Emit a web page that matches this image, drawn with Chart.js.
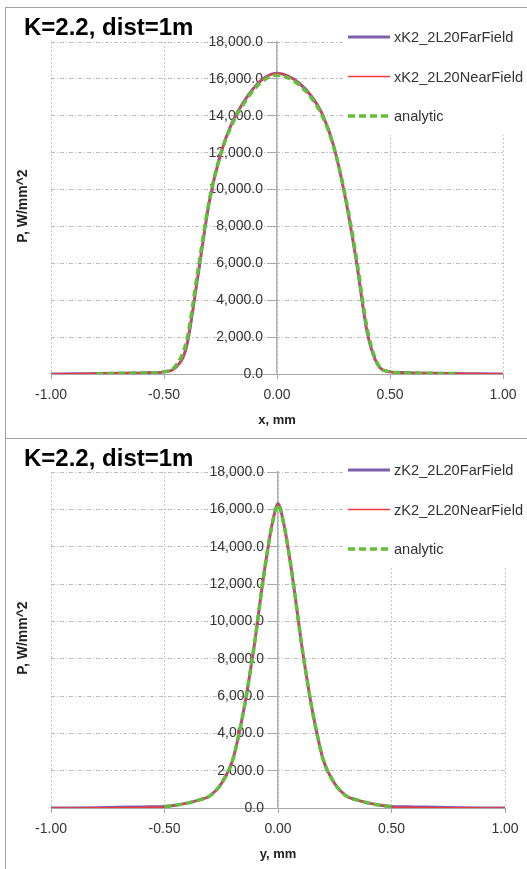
<!DOCTYPE html>
<html>
<head>
<meta charset="utf-8">
<script src="https://cdn.jsdelivr.net/npm/chart.js@4.4.0/dist/chart.umd.min.js"></script>
<style>
  body { margin: 0; background: #fff; }
  #page { position: relative; width: 527px; height: 869px; overflow: hidden; }
  .panel { position: absolute; left: 5px; width: 600px; border: 1px solid #a0a0a0; }
  #panelX { top: 7px; height: 430px; }
  #panelY { top: 438px; height: 460px; }
  canvas { position: absolute; left: 0; }
  #chartX { top: 0; }
  #chartY { top: 438px; }
</style>
</head>
<body>
<div id="page">
  <div class="panel" id="panelX"></div>
  <div class="panel" id="panelY"></div>
  <canvas id="chartX" width="527" height="438"></canvas>
  <canvas id="chartY" width="527" height="431"></canvas>
</div>
<script>
// ---- data ----
// horizontal cut (x, mm)
const posX = [-1.00, -0.90, -0.80, -0.70, -0.60, -0.55, -0.50, -0.45, -0.40, -0.35, -0.30, -0.25, -0.20, -0.15, -0.10, -0.05,
  0.00, 0.05, 0.10, 0.15, 0.20, 0.25, 0.30, 0.35, 0.40, 0.45, 0.50, 0.55, 0.60, 0.70, 0.80, 0.90, 1.00];
const farX = [5, 10, 25, 40, 60, 75, 115, 340, 1500, 5300, 9300, 11900, 13600, 14700, 15550, 16100,
  16300, 16150, 15750, 15100, 14100, 12400, 9700, 6200, 2200, 420, 115, 75, 60, 40, 25, 10, 5];
const nearX = [5, 8, 20, 35, 55, 70, 110, 330, 1500, 5300, 9300, 11900, 13600, 14700, 15550, 16100,
  16300, 16150, 15750, 15100, 14100, 12400, 9700, 6200, 2200, 420, 110, 70, 55, 35, 20, 8, 5];
const posAnX = [-0.80, -0.70, -0.60, -0.55, -0.50, -0.45, -0.40, -0.35, -0.30, -0.25, -0.20, -0.15, -0.10, -0.05,
  0.00, 0.05, 0.10, 0.15, 0.20, 0.25, 0.30, 0.35, 0.40, 0.45, 0.50, 0.55, 0.60, 0.70, 0.80];
const analyticX = [20, 35, 55, 70, 120, 420, 1800, 5600, 9400, 11900, 13500, 14600, 15450, 16000,
  16200, 16050, 15650, 15000, 14000, 12350, 9800, 6400, 2400, 450, 120, 70, 55, 35, 20];

// vertical cut (y, mm)
const posY = [-1.00, -0.90, -0.80, -0.70, -0.60, -0.50, -0.45, -0.40, -0.35, -0.30, -0.25, -0.20, -0.175, -0.15, -0.125, -0.10, -0.075, -0.05, -0.025,
  0.00, 0.025, 0.05, 0.075, 0.10, 0.125, 0.15, 0.175, 0.20, 0.25, 0.30, 0.35, 0.40, 0.45, 0.50, 0.60, 0.70, 0.80, 0.90, 1.00];
const farY = [0, 5, 20, 45, 60, 85, 150, 260, 420, 650, 1300, 2550, 3800, 5300, 7100, 9100, 11400, 13500, 15250,
  16300, 15250, 13500, 11400, 9100, 7100, 5300, 3800, 2550, 1300, 650, 420, 260, 150, 85, 60, 45, 20, 5, 0];
const nearY = [0, 0, 5, 15, 30, 70, 150, 260, 420, 650, 1300, 2550, 3800, 5300, 7100, 9100, 11400, 13500, 15250,
  16300, 15250, 13500, 11400, 9100, 7100, 5300, 3800, 2550, 1300, 650, 420, 260, 150, 70, 30, 15, 5, 0, 0];
const posAnY = [-0.50, -0.45, -0.40, -0.35, -0.30, -0.25, -0.20, -0.175, -0.15, -0.125, -0.10, -0.075, -0.05, -0.025,
  0.00, 0.025, 0.05, 0.075, 0.10, 0.125, 0.15, 0.175, 0.20, 0.25, 0.30, 0.35, 0.40, 0.45, 0.50];
const analyticY = [70, 150, 260, 420, 650, 1300, 2550, 3800, 5300, 7100, 9100, 11400, 13500, 15250,
  16250, 15250, 13500, 11400, 9100, 7100, 5300, 3800, 2550, 1300, 650, 420, 260, 150, 70];

const xTicks = [-1.0, -0.5, 0.0, 0.5, 1.0];
const yMax = 18000;
const yStep = 2000;

const FONT = '"Liberation Sans", Arial, sans-serif';
const PURPLE = '#7d5fab';
const RED = '#f2383f';
const GREEN = '#63bf3a';

function points(xs, ys) {
  return xs.map((x, i) => ({ x: x, y: ys[i] }));
}

// title, y-axis title and the boxed legend that sits over the plot
const panelDecor = {
  id: 'panelDecor',
  afterDraw(chart, args, opts) {
    const { ctx, chartArea } = chart;
    ctx.save();
    ctx.fillStyle = '#000';
    ctx.textBaseline = 'middle';
    ctx.textAlign = 'left';
    ctx.font = 'bold 24px ' + FONT;
    ctx.fillText(opts.title, 24, opts.titleY);

    ctx.save();
    ctx.font = 'bold 14px ' + FONT;
    ctx.translate(23, (chartArea.top + chartArea.bottom) / 2 - 2);
    ctx.rotate(-Math.PI / 2);
    ctx.textAlign = 'center';
    ctx.fillStyle = '#222';
    ctx.fillText(opts.yTitle, 0, 0);
    ctx.restore();

    // legend box
    ctx.fillStyle = '#fff';
    ctx.fillRect(343, opts.legendY - 14, 200, 112);
    ctx.font = '14.6px ' + FONT;
    chart.data.datasets.forEach((ds, i) => {
      const y = opts.legendY + i * 39.5;
      ctx.beginPath();
      ctx.strokeStyle = ds.borderColor;
      ctx.lineWidth = ds.borderWidth;
      ctx.setLineDash(ds.borderDash || []);
      ctx.moveTo(348, y);
      ctx.lineTo(390, y);
      ctx.stroke();
      ctx.setLineDash([]);
      ctx.fillStyle = '#333';
      ctx.fillText(ds.label, 394, y + 1);
    });
    ctx.restore();
  }
};

function makeChart(canvasId, cut) {
  const ctx = document.getElementById(canvasId).getContext('2d');
  return new Chart(ctx, {
    type: 'line',
    data: {
      datasets: [
        {
          label: cut.names[0],
          data: points(cut.pos, cut.far),
          borderColor: PURPLE,
          borderWidth: 3,
          order: 2
        },
        {
          label: cut.names[1],
          data: points(cut.pos, cut.near),
          borderColor: RED,
          borderWidth: 1.6,
          order: 1
        },
        {
          label: 'analytic',
          data: points(cut.posAn, cut.analytic),
          borderColor: GREEN,
          borderWidth: 3.5,
          borderDash: [7, 4],
          order: 0
        }
      ]
    },
    options: {
      responsive: false,
      animation: false,
      devicePixelRatio: 1,
      layout: { padding: cut.padding },
      elements: {
        point: { radius: 0 },
        line: { cubicInterpolationMode: 'monotone', fill: false }
      },
      scales: {
        x: {
          type: 'linear',
          position: 'bottom',
          min: -1,
          max: 1,
          afterBuildTicks: axis => { axis.ticks = xTicks.map(v => ({ value: v })); },
          afterFit: axis => { axis.height = 60; },
          grid: { color: '#c8c8c8', tickColor: '#a6a6a6', tickLength: 5 },
          border: { color: '#a6a6a6', width: 1, dash: [2, 2] },
          ticks: {
            padding: 8,
            color: '#333',
            font: { family: FONT, size: 14 },
            callback: v => v.toFixed(2)
          },
          title: {
            display: true,
            text: cut.axisTitle,
            color: '#222',
            font: { family: FONT, size: 13, weight: 'bold' },
            padding: { top: 0, bottom: 6 }
          }
        },
        y: {
          type: 'linear',
          position: { x: 0 },
          min: 0,
          max: yMax,
          grid: { color: '#bcbcbc', tickColor: '#a6a6a6', tickLength: 9 },
          border: { color: '#b0b0b0', width: 1.5, dash: [4, 2, 1, 2] },
          ticks: {
            stepSize: yStep,
            color: '#333',
            font: { family: FONT, size: 14 },
            // labels of a centred axis sit right on the line; the em space keeps them clear of the tick mark
            callback: v => v.toLocaleString('en-US', { minimumFractionDigits: 1, maximumFractionDigits: 1 }) + '\u2003'
          }
        }
      },
      plugins: {
        legend: { display: false },
        tooltip: { enabled: false },
        panelDecor: cut.decor
      }
    },
    plugins: [panelDecor]
  });
}

makeChart('chartX', {
  names: ['xK2_2L20FarField', 'xK2_2L20NearField'],
  pos: posX, far: farX, near: nearX, posAn: posAnX, analytic: analyticX,
  axisTitle: 'x, mm',
  padding: { left: 51, right: 24, top: 42, bottom: 4 },
  decor: { title: 'K=2.2, dist=1m', titleY: 28, yTitle: 'P, W/mm^2', legendY: 37 }
});

makeChart('chartY', {
  names: ['zK2_2L20FarField', 'zK2_2L20NearField'],
  pos: posY, far: farY, near: nearY, posAn: posAnY, analytic: analyticY,
  axisTitle: 'y, mm',
  padding: { left: 51, right: 22, top: 34, bottom: 1 },
  decor: { title: 'K=2.2, dist=1m', titleY: 21, yTitle: 'P, W/mm^2', legendY: 32 }
});
</script>
</body>
</html>
